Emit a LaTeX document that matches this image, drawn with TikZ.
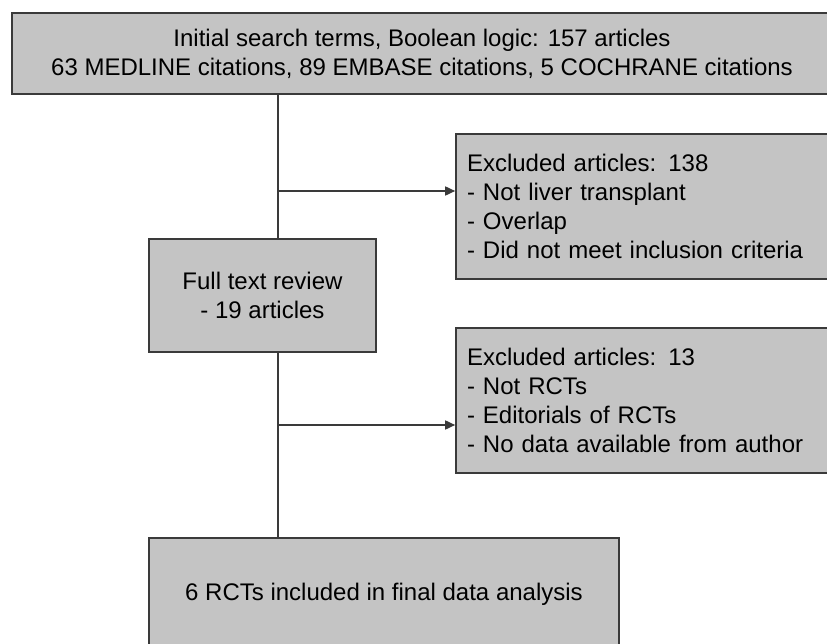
\documentclass[tikz,border=0pt]{standalone}
\usepackage{fontspec}
\setmainfont{Liberation Sans}
\usepackage{xcolor}
\usepackage{tikz}
\usetikzlibrary{arrows.meta}
\definecolor{boxfill}{HTML}{C4C4C4}
\definecolor{boxline}{HTML}{3A3A3A}
\tikzset{stage/.style = {draw=boxline, fill=boxfill, line width=1.6pt,
    align=center, inner sep=0pt, font=\fontsize{24}{28.8}\selectfont},
  excl/.style = {stage, align=left, text width=352pt, inner xsep=11pt,
    minimum width=374pt, minimum height=145pt},
  link/.style = {draw=boxline, line width=1.6pt},
  arr/.style = {link, -{Triangle[length=10pt,width=9pt]}}
}

\begin{document}
\begin{tikzpicture}[x=1pt,y=-1pt]
  \useasboundingbox (0,0) rectangle (827,644);
  \node[stage, minimum width=820pt, minimum height=81pt] (search) at (422,53.5)
    {Initial search terms, Boolean logic: 157 articles\\
     63 MEDLINE citations, 89 EMBASE citations, 5 COCHRANE citations};
  \node[excl] (excl1) at (643,206.5)
    {Excluded articles: 138\\- Not liver transplant\\- Overlap\\- Did not meet inclusion criteria};
  \node[stage, minimum width=227pt, minimum height=113pt] (review) at (262.5,295.5)
    {Full text review\\- 19 articles};
  \node[excl] (excl2) at (643,400.5)
    {Excluded articles: 13\\- Not RCTs\\- Editorials of RCTs\\- No data available from author};
  \node[stage, minimum width=470pt, minimum height=112pt] (final) at (384,594)
    {6 RCTs included in final data analysis};
  \coordinate (spine) at (278,0);
  \coordinate (b1) at (278,191);
  \coordinate (b2) at (278,425);
  % main line and the two exclusions
  \draw[link] (search.south -| spine) -- (review.north -| spine);
  \draw[link] (review.south -| spine) -- (final.north -| spine);
  \draw[arr] (b1) -- (b1 -| excl1.west);
  \draw[arr] (b2) -- (b2 -| excl2.west);
\end{tikzpicture}
\end{document}
